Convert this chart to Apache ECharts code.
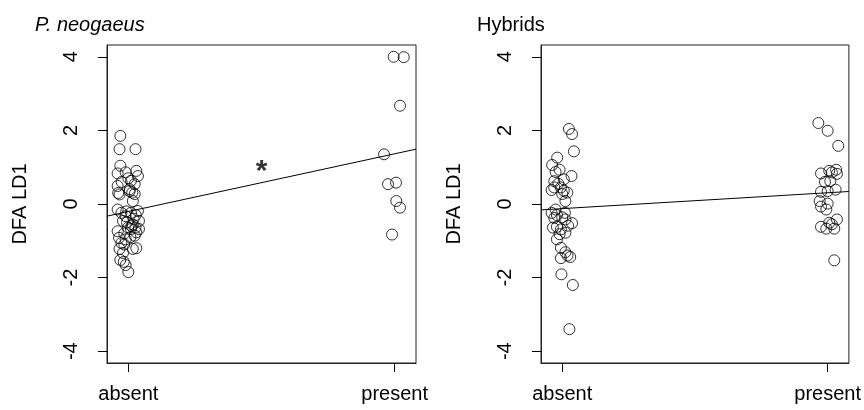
<!DOCTYPE html>
<html>
<head>
<meta charset="utf-8">
<script src="https://cdn.jsdelivr.net/npm/echarts@6/dist/echarts.min.js"></script>
<style>html,body{margin:0;padding:0;background:#fff;}#c{width:864px;height:410px;}</style>
</head>
<body>
<div id="c"></div>
<script>
// ---- data ----
const panelTitles = ['P. neogaeus', 'Hybrids'];
const categories = ['absent', 'present'];
const categoryPos = [1, 2];
const yTicks = [-4, -2, 0, 2, 4];
const yLabel = 'DFA LD1';

// P. neogaeus: [jittered x, LD1]
const neoAbsent = [
  [0.970,1.85],[0.967,1.49],[1.027,1.49],[0.970,1.04],[0.960,0.83],[0.990,0.86],[1.030,0.90],[1.036,0.76],
  [0.960,0.49],[1.010,0.63],[1.024,0.54],[0.967,0.26],[1.005,0.35],[1.015,0.31],[1.024,0.27],[1.017,0.08],
  [0.960,-0.15],[0.974,-0.24],[1.036,-0.19],[0.990,-0.33],[1.010,-0.24],[0.980,-0.46],[0.995,-0.50],[1.040,-0.46],
  [1.017,-0.56],[0.960,-0.74],[0.999,-0.64],[1.010,-0.68],[1.027,-0.64],[1.040,-0.68],[0.965,-0.92],[0.990,-0.96],
  [1.024,-0.86],[1.030,-0.77],[0.974,-1.06],[0.985,-1.10],[0.967,-1.22],[1.017,-1.22],[1.030,-1.20],[0.980,-1.33],
  [0.970,-1.52],[0.983,-1.57],[0.990,-1.66],[1.000,-1.85],[0.962,0.30],[1.000,0.70],[1.020,-0.40],[0.985,-0.80],
  [1.005,0.40],[1.012,-0.60],[0.975,0.60],[1.028,-0.30],[0.992,-0.20],[1.008,-0.90]
];
const neoPresent = [
  [1.996,4.00],[2.034,3.99],[2.020,2.67],[1.960,1.35],[1.975,0.54],[2.005,0.58],[2.006,0.08],[2.020,-0.10],[1.990,-0.83]
];
// Hybrids
const hybAbsent = [
  [1.025,2.04],[1.037,1.90],[1.044,1.43],[0.981,1.26],[0.962,1.06],[0.990,0.93],[0.975,0.87],[1.035,0.76],
  [1.006,0.67],[0.970,0.62],[0.985,0.55],[0.960,0.38],[0.995,0.45],[1.019,0.31],[1.006,0.36],[1.000,0.27],
  [0.970,0.45],[1.012,0.08],[0.975,-0.15],[0.960,-0.24],[0.980,-0.30],[1.010,-0.24],[0.970,-0.38],[1.000,-0.36],
  [1.012,-0.42],[1.037,-0.52],[1.022,-0.59],[0.965,-0.64],[0.980,-0.62],[0.995,-0.69],[1.012,-0.78],[0.990,-0.82],
  [0.980,-0.96],[0.995,-1.19],[1.012,-1.31],[1.020,-1.40],[1.030,-1.44],[0.995,-1.47],[0.997,-1.91],[1.040,-2.20],
  [1.027,-3.40]
];
const hybPresent = [
  [1.965,2.20],[2.000,1.99],[2.040,1.58],[1.975,0.83],[2.006,0.90],[2.016,0.86],[2.032,0.93],[2.035,0.82],
  [1.990,0.60],[2.010,0.62],[2.030,0.39],[1.975,0.33],[2.000,0.35],[1.970,0.08],[2.000,0.01],[1.975,-0.07],
  [1.995,-0.15],[2.035,-0.42],[2.006,-0.51],[1.975,-0.62],[1.995,-0.67],[2.016,-0.55],[2.025,-0.67],[2.025,-1.53]
];
// fitted regression lines (value at the ends of the x range)
const fitX = [0.92, 2.08];
const neoFitY = [-0.33, 1.49];
const hybFitY = [-0.16, 0.34];
// significance marker
const neoStar = [[1.5, 1.0]];

// ---- chart ----
const FONT = '"Liberation Sans", Arial, Helvetica, sans-serif';
const FS = 20;
const chart = echarts.init(document.getElementById('c'), null, {renderer: 'canvas'});

function xAxis(gi) {
  return {
    gridIndex: gi, type: 'value', min: 0.92, max: 2.08,
    axisLine: {show: true, onZero: false, lineStyle: {color: '#222', width: 1}},
    splitLine: {show: false},
    axisTick: {show: true, inside: false, length: 9, customValues: categoryPos, lineStyle: {color: '#000', width: 1}},
    axisLabel: {show: true, customValues: categoryPos, margin: 21, color: '#000', fontFamily: FONT, fontSize: FS,
      formatter: v => categories[categoryPos.indexOf(Math.round(v))] || ''}
  };
}
function yAxis(gi) {
  return {
    gridIndex: gi, type: 'value', min: -4.32, max: 4.32,
    name: yLabel, nameLocation: 'middle', nameGap: 77, nameRotate: 90,
    nameTextStyle: {color: '#000', fontFamily: FONT, fontSize: FS},
    axisLine: {show: true, onZero: false, lineStyle: {color: '#222', width: 1}},
    splitLine: {show: false},
    axisTick: {show: true, inside: false, length: 9, customValues: yTicks, lineStyle: {color: '#000', width: 1}},
    axisLabel: {show: true, customValues: yTicks, rotate: 90, margin: 26, color: '#000', fontFamily: FONT, fontSize: FS,
      formatter: v => String(Math.round(v))}
  };
}
function pts(data, gi) {
  return {
    type: 'scatter', xAxisIndex: gi, yAxisIndex: gi, data: data, symbol: 'circle', symbolSize: 11,
    itemStyle: {color: 'rgba(0,0,0,0)', borderColor: '#000', borderWidth: 1}, silent: true, z: 3
  };
}
function fit(ys, gi) {
  return {
    type: 'line', xAxisIndex: gi, yAxisIndex: gi, data: fitX.map((x, i) => [x, ys[i]]),
    symbol: 'none', lineStyle: {color: '#000', width: 1}, silent: true, z: 2
  };
}

chart.setOption({
  animation: false,
  backgroundColor: '#fff',
  title: [
    {text: panelTitles[0], left: 30, top: 10, textStyle: {fontFamily: FONT, fontSize: FS, fontWeight: 'normal', fontStyle: 'italic', color: '#000'}},
    {text: panelTitles[1], left: 472, top: 10, textStyle: {fontFamily: FONT, fontSize: FS, fontWeight: 'normal', color: '#000'}}
  ],
  grid: [
    {left: 107, top: 45, width: 309, height: 318, show: true, borderColor: '#222', borderWidth: 1, backgroundColor: 'transparent'},
    {left: 541, top: 45, width: 310, height: 318, show: true, borderColor: '#222', borderWidth: 1, backgroundColor: 'transparent'}
  ],
  xAxis: [xAxis(0), xAxis(1)],
  yAxis: [yAxis(0), yAxis(1)],
  series: [
    pts(neoAbsent, 0), pts(neoPresent, 0), fit(neoFitY, 0),
    pts(hybAbsent, 1), pts(hybPresent, 1), fit(hybFitY, 1),
    {
      type: 'scatter', xAxisIndex: 0, yAxisIndex: 0, data: neoStar, symbolSize: 1,
      itemStyle: {color: 'rgba(0,0,0,0)'}, silent: true,
      label: {show: true, position: 'inside', formatter: '*', fontFamily: FONT, fontSize: 30, fontWeight: 'bold', color: '#000', offset: [0, 5]}
    }
  ]
});
</script>
</body>
</html>
